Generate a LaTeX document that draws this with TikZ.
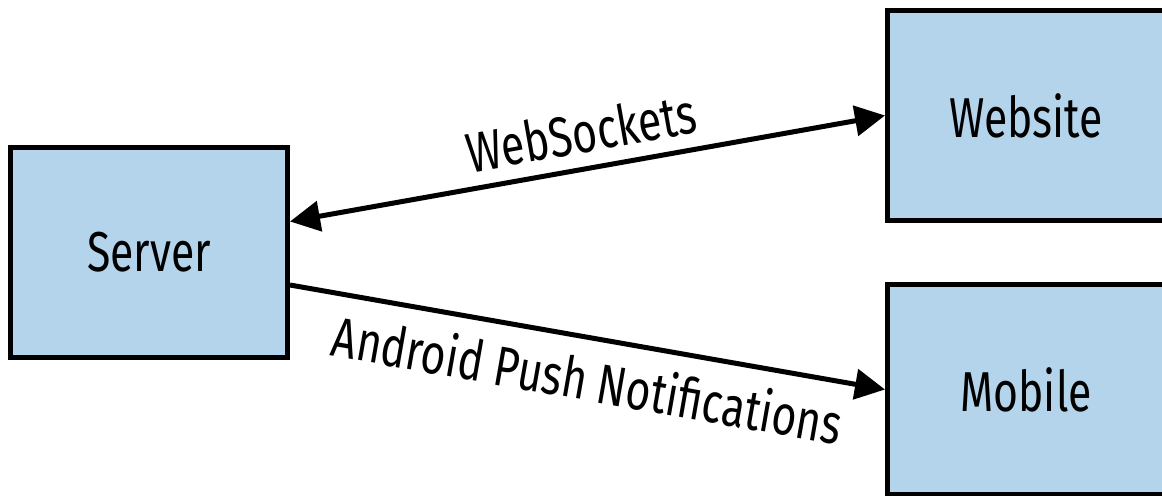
\documentclass[tikz,border=0pt]{standalone}
\usepackage{fontspec}
\usepackage{graphicx}
\setmainfont{Fira Sans}
\usetikzlibrary{arrows.meta}
\definecolor{boxblue}{RGB}{179,212,234}
\newcommand{\cond}[1]{\scalebox{0.76}[1]{#1}}
\begin{document}
\begin{tikzpicture}[
                        >={Triangle[length=0.6cm,width=0.6cm]},
                        line width=0.1cm,
                        font=\fontsize{32}{38}\selectfont
                    ]
                    \useasboundingbox (0,0) rectangle (23.24,9.9);
                    \clip (0,0) rectangle (23.24,9.9);
                    % Blocks
                    \node [rectangle, draw, fill=boxblue, inner sep=0pt, minimum height=4.2cm, minimum width=5.54cm] (server) at (2.98,4.85) {\cond{Server}};
                    \node [rectangle, draw, fill=boxblue, inner sep=0pt, minimum height=4.2cm, minimum width=5.54cm] (website) at (20.52,7.59) {\cond{Website}};
                    \node [rectangle, draw, fill=boxblue, inner sep=0pt, minimum height=4.2cm, minimum width=5.54cm] (mobile) at (20.52,2.11) {\cond{Mobile}};

                    % Connections
                    \draw [<->] ([yshift=0.62cm]server.east) --node[above=4pt, sloped]{\cond{WebSockets}} (website.west);
                    \draw [->] ([yshift=-0.65cm]server.east) --node[below=6pt, sloped, xshift=0.15cm]{\cond{Android Push Notifications}} (mobile.west);
                \end{tikzpicture}
\end{document}
